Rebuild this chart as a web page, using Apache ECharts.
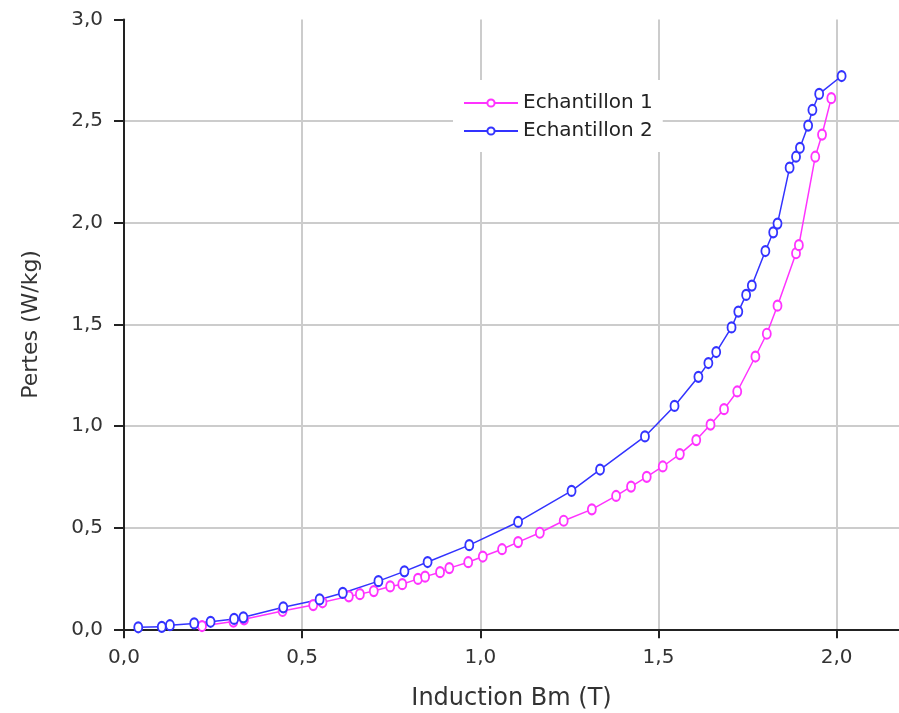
<!DOCTYPE html>
<html>
<head>
<meta charset="utf-8">
<script src="https://cdn.jsdelivr.net/npm/echarts@6/dist/echarts.min.js"></script>
<style>
html,body{margin:0;padding:0;background:#fff;}
#chart{width:899px;height:713px;}
</style>
</head>
<body>
<div id="chart"></div>
<script>
// ---- Data ----
const seriesNames = ['Echantillon 1', 'Echantillon 2'];

const ech1X = [0.219, 0.307, 0.337, 0.445, 0.531, 0.557, 0.631, 0.662, 0.701, 0.747, 0.781, 0.825, 0.845, 0.887, 0.913, 0.966, 1.007, 1.061, 1.106, 1.167, 1.234, 1.313, 1.381, 1.423, 1.467, 1.512, 1.560, 1.606, 1.646, 1.684, 1.721, 1.772, 1.804, 1.834, 1.886, 1.894, 1.940, 1.959, 1.985];
const ech1Y = [0.016, 0.038, 0.049, 0.090, 0.119, 0.133, 0.162, 0.173, 0.188, 0.211, 0.222, 0.248, 0.259, 0.281, 0.301, 0.330, 0.358, 0.394, 0.429, 0.475, 0.534, 0.590, 0.656, 0.702, 0.750, 0.801, 0.862, 0.931, 1.007, 1.083, 1.170, 1.342, 1.454, 1.592, 1.850, 1.890, 2.325, 2.434, 2.613];

const ech2X = [0.040, 0.106, 0.129, 0.197, 0.243, 0.309, 0.335, 0.447, 0.549, 0.614, 0.714, 0.787, 0.852, 0.969, 1.106, 1.256, 1.336, 1.462, 1.545, 1.612, 1.640, 1.662, 1.705, 1.724, 1.746, 1.762, 1.800, 1.822, 1.834, 1.868, 1.886, 1.897, 1.920, 1.932, 1.951, 2.014];
const ech2Y = [0.010, 0.012, 0.020, 0.029, 0.037, 0.051, 0.059, 0.108, 0.147, 0.179, 0.237, 0.285, 0.331, 0.414, 0.528, 0.681, 0.786, 0.949, 1.099, 1.242, 1.310, 1.364, 1.485, 1.563, 1.645, 1.691, 1.861, 1.953, 1.996, 2.271, 2.325, 2.369, 2.478, 2.555, 2.634, 2.722];

const xTickLabels = ['0,0', '0,5', '1,0', '1,5', '2,0'];
const yTickLabels = ['0,0', '0,5', '1,0', '1,5', '2,0', '2,5', '3,0'];
const xAxisName = 'Induction Bm (T)';
const yAxisName = 'Pertes (W/kg)';

// ---- Build ----
const zip = (xs, ys) => xs.map((x, i) => [x, ys[i]]);
const colors = ['#ff33ff', '#3333ff'];
const FONT = 'DejaVu Sans';

const chart = echarts.init(document.getElementById('chart'), null, {renderer: 'canvas'});

function lineSeries(name, data, color) {
  return {
    name: name,
    type: 'line',
    data: data,
    symbol: 'emptyCircle',
    symbolSize: [8, 10],
    showSymbol: true,
    animation: false,
    lineStyle: {color: color, width: 1.5},
    itemStyle: {color: color, borderColor: color, borderWidth: 2},
    emphasis: {disabled: true},
    z: 3
  };
}

chart.setOption({
  animation: false,
  backgroundColor: '#ffffff',
  textStyle: {fontFamily: FONT},
  grid: {left: 124, right: 0, top: 19.5, bottom: 83.7, containLabel: false, outerBoundsMode: 'none'},
  legend: {
    show: true,
    orient: 'vertical',
    left: 453,
    top: 80,
    padding: [13, 10, 11, 10],
    backgroundColor: '#ffffff',
    itemWidth: 54,
    itemHeight: 9,
    itemGap: 8,
    data: seriesNames,
    textStyle: {fontFamily: FONT, fontSize: 20, color: '#222'},
    z: 10
  },
  xAxis: {
    type: 'value',
    min: 0,
    max: 2.175,
    interval: 0.5,
    name: xAxisName,
    nameLocation: 'middle',
    nameGap: 57,
    nameTextStyle: {fontFamily: FONT, fontSize: 24, color: '#333'},
    axisLine: {show: true, onZero: false, lineStyle: {color: '#222', width: 2}},
    axisTick: {show: true, inside: false, length: 9, lineStyle: {color: '#222', width: 2}},
    axisLabel: {
      show: true, margin: 18, fontFamily: FONT, fontSize: 20, color: '#333',
      showMaxLabel: false,
      formatter: v => { const i = Math.round(v / 0.5); return Math.abs(v - i * 0.5) < 1e-6 ? (xTickLabels[i] || '') : ''; }
    },
    splitLine: {show: true, showMinLine: false, showMaxLine: false, lineStyle: {color: '#cccccc', width: 2}}
  },
  yAxis: {
    type: 'value',
    min: 0,
    max: 3,
    interval: 0.5,
    name: yAxisName,
    nameLocation: 'middle',
    nameGap: 82,
    nameTextStyle: {fontFamily: FONT, fontSize: 22, color: '#333'},
    axisLine: {show: true, onZero: false, lineStyle: {color: '#222', width: 2}},
    axisTick: {show: true, inside: false, length: 10, lineStyle: {color: '#222', width: 2}},
    axisLabel: {
      show: true, margin: 21, fontFamily: FONT, fontSize: 20, color: '#333',
      formatter: v => yTickLabels[Math.round(v / 0.5)] || ''
    },
    splitLine: {show: true, showMinLine: false, showMaxLine: false, lineStyle: {color: '#cccccc', width: 2}}
  },
  series: [
    lineSeries(seriesNames[0], zip(ech1X, ech1Y), colors[0]),
    lineSeries(seriesNames[1], zip(ech2X, ech2Y), colors[1])
  ]
});
</script>
</body>
</html>
